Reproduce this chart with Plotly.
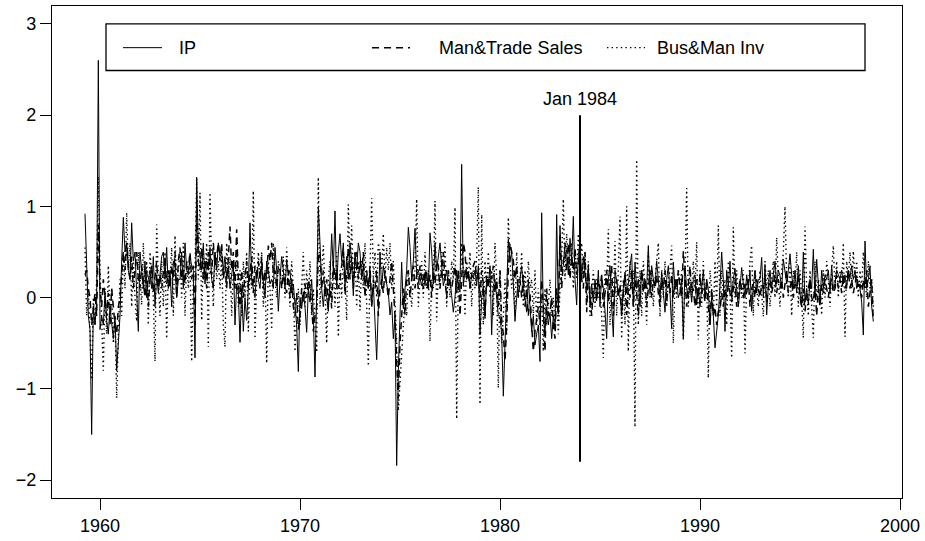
import plotly.graph_objects as go

# Monthly series, April 1959 .. September 1998 (one row per calendar year)
START_YEAR = 1959
START_MONTH = 4

ip = [
    0.92, 0.2, -0.2, -0.35, -1.5, -0.1, -0.3, -0.05, 2.6,
    -0.35, -0.2, -0.3, 0.05, -0.25, -0.4, -0.1, -0.3, -0.45, -0.2, -0.8, -0.5,
    -0.2, 0.4, 0.88, 0.5, 0.6, 0.3, 0.2, 0.82, 0.4, 0.5, 0.1, -0.37,
    0.5, 0.3, 0.1, 0.4, 0.0, 0.2, 0.3, 0.1, 0.45, -0.1, 0.25, 0.05,
    0.3, 0.45, 0.5, 0.2, 0.55, 0.1, 0.3, -0.1, 0.4, 0.35, 0.0, 0.2,
    0.2, 0.5, 0.1, 0.6, 0.3, 0.25, 0.45, 0.35, 0.3, -0.66, 1.32, 0.55,
    0.45, 0.3, 0.6, 0.15, 0.4, 0.3, 0.55, 0.2, 0.1, 0.5, 0.3, 0.6,
    0.45, 0.5, 0.3, 0.45, 0.2, 0.35, 0.1, 0.25, 0.4, -0.3, 0.15, 0.05,
    -0.49, 0.1, -0.37, 0.0, -0.25, 0.1, 0.82, 0.2, 0.1, 0.0, 0.3, 0.2,
    0.1, 0.35, 0.2, 0.0, 0.4, 0.3, 0.15, 0.2, 0.1, 0.55, 0.3, -0.15,
    0.2, 0.45, 0.3, 0.1, 0.42, 0.25, 0.3, 0.05, 0.15, -0.1, -0.3, -0.81,
    0.0, -0.12, 0.06, -0.1, -0.38, 0.1, -0.05, 0.2, -0.2, -0.87, 0.1, 0.99,
    0.6, 0.1, -0.1, 0.15, 0.0, -0.15, 0.2, 0.7, 0.3, 0.95, 0.1, 0.5,
    0.7, 0.4, 0.6, 0.15, 0.45, 0.2, 0.6, 0.4, 0.02, 0.5, 0.3, 0.6,
    0.5, 0.2, 0.35, 0.13, 0.25, 0.1, 0.3, -0.08, 0.15, -0.37, -0.68, -0.1,
    0.5, 0.1, 0.35, 0.21, 0.15, 0.05, -0.19, -0.05, -0.45, -0.2, -1.84, -0.8,
    -0.3, 0.39, -0.12, 0.06, 0.3, 0.77, 0.55, 0.2, 0.4, 0.76, 0.25, 0.3,
    0.2, 0.13, 0.25, 0.13, 0.28, 0.1, 0.71, 0.5, 0.15, 0.6, 0.3, 0.45,
    0.6, 0.35, 0.13, 0.21, 0.3, 0.13, 0.2, 0.02, -0.16, 0.0, 0.3, 0.1,
    0.06, 1.46, 0.13, 0.3, 0.2, 0.28, 0.1, 0.25, 0.21, 0.3, 0.13, 0.35,
    -0.41, 0.0, 0.13, -0.23, 0.2, 0.13, 0.35, -0.41, 0.13, 0.2, 0.0, -0.2,
    -0.2, -0.4, -1.08, -0.5, -0.15, 0.64, 0.4, 0.5, 0.15, -0.26, 0.0, 0.2,
    0.2, 0.35, 0.1, 0.0, -0.16, 0.2, -0.1, -0.37, -0.2, -0.52, -0.4, -0.3,
    -0.7, 0.93, -0.2, -0.37, -0.1, -0.3, -0.16, -0.45, -0.2, -0.35, 0.91, -0.15,
    0.79, 0.3, 0.35, 0.6, 0.5, 0.25, 0.65, 0.4, 0.89, 0.2, -0.08, 0.47,
    0.6, 0.2, 0.45, 0.3, 0.1, 0.35, -0.1, 0.15, -0.05, 0.2, 0.0, 0.3,
    -0.1, 0.24, 0.1, -0.15, -0.45, 0.2, 0.35, -0.1, -0.43, 0.3, 0.15, 0.05,
    0.0, -0.16, 0.1, 0.28, 0.05, 0.15, 0.35, 0.48, -0.1, 0.39, 0.1, 0.2,
    -0.1, 0.3, 0.15, 0.2, 0.1, 0.57, 0.05, 0.35, 0.2, 0.13, 0.4, 0.15,
    0.0, 0.28, 0.1, -0.16, 0.2, 0.35, 0.05, -0.34, 0.39, 0.1, 0.2, 0.0,
    0.06, 0.2, -0.45, 0.35, 0.1, 0.0, 0.13, -0.05, 0.2, 0.25, -0.08, 0.1,
    -0.1, 0.13, 0.3, 0.0, 0.2, 0.1, -0.3, 0.0, -0.2, -0.55, -0.35, -0.19,
    0.13, 0.5, 0.2, -0.37, 0.3, 0.13, 0.4, 0.0, 0.2, 0.32, 0.1, -0.1,
    0.1, 0.33, 0.15, 0.0, 0.25, 0.1, 0.3, -0.15, 0.13, 0.3, 0.05, 0.2,
    0.2, 0.44, 0.0, 0.35, -0.19, 0.13, 0.3, 0.1, 0.25, 0.4, 0.15, 0.3,
    0.24, 0.1, 0.42, 0.3, 0.15, 0.3, 0.48, 0.25, 0.1, 0.3, 0.05, 0.35,
    0.05, -0.1, 0.5, -0.05, 0.1, -0.08, 0.2, 0.1, 0.53, 0.0, 0.42, 0.15,
    -0.05, 0.3, 0.1, 0.25, 0.2, 0.3, 0.05, 0.35, 0.1, 0.15, 0.3, 0.25,
    0.2, 0.3, 0.15, 0.25, 0.1, 0.3, 0.22, 0.35, 0.2, 0.3, 0.1, 0.15,
    0.1, -0.05, -0.41, 0.62, 0.1, 0.2, 0.35, -0.1, -0.26,
]

sales = [
    0.25, 0.3, 0.1, 0.0, -0.3, -0.1, 0.05, -0.2, 0.8,
    0.1, -0.1, 0.2, 0.0, -0.2, 0.05, -0.3, 0.1, -0.15, -0.3, -0.4, -0.1,
    0.0, 0.3, 0.5, 0.3, 0.6, 0.35, 0.2, 0.45, 0.1, 0.3, 0.5, 0.2,
    0.1, 0.35, 0.2, 0.0, 0.3, -0.1, 0.2, 0.35, 0.05, 0.2, 0.4, 0.1,
    0.25, 0.1, 0.3, 0.45, 0.15, 0.3, 0.1, 0.35, 0.2, 0.5, 0.0, 0.4,
    0.55, 0.2, 0.3, 0.15, 0.4, 0.3, 0.5, 0.2, 0.35, -0.3, 0.9, 0.4,
    0.3, 0.55, 0.2, 0.4, 0.1, 0.5, 0.3, 0.25, 0.6, 0.35, 0.45, 0.6,
    0.4, 0.6, 0.2, 0.35, 0.1, 0.45, 0.78, 0.3, 0.5, 0.1, 0.75, 0.2,
    -0.1, 0.3, 0.0, 0.25, 0.4, 0.1, 0.3, 0.45, 0.05, 0.35, 0.2, 0.4,
    0.2, 0.45, 0.1, 0.3, 0.2, 0.57, 0.4, 0.6, 0.25, 0.3, 0.1, 0.35,
    0.3, 0.1, 0.25, 0.15, 0.05, 0.3, 0.0, 0.2, -0.1, -0.2, 0.05, -0.35,
    -0.2, 0.1, -0.05, 0.15, 0.0, 0.2, 0.1, -0.1, -0.37, -0.2, -0.1, 0.45,
    0.5, 0.1, 0.3, 0.0, 0.2, -0.1, 0.15, -0.12, 0.4, 0.2, 0.3, 0.1,
    0.2, 0.35, 0.5, 0.03, 0.3, 0.55, 0.2, 0.45, 0.1, 0.4, 0.5, 0.2,
    0.4, 0.25, 0.5, 0.0, 0.3, 0.1, 0.35, -0.1, 0.2, 0.1, 0.3, -0.2,
    0.1, 0.2, 0.05, 0.3, 0.15, 0.0, 0.2, 0.4, 0.1, -0.2, -0.7, -1.1,
    -0.5, -0.2, 0.1, -0.19, 0.2, 0.3, 0.0, 0.2, 0.35, 0.1, 0.25, 0.1,
    0.35, 0.2, 0.1, 0.3, 0.15, 0.1, 0.25, 0.0, 0.3, 0.15, 0.4, 0.35,
    0.1, 0.3, 0.5, 0.2, 0.0, 0.3, 0.15, 0.1, 0.25, 0.35, 0.05, 0.3,
    -0.2, 0.2, 0.6, 0.5, 0.2, 0.3, 0.1, 0.25, 0.35, 0.4, 0.2, 0.3,
    0.0, 0.3, 0.15, -0.2, 0.25, 0.1, 0.31, 0.2, 0.35, 0.05, 0.2, -0.1,
    0.3, -0.26, -0.4, -0.7, -0.3, 0.3, 0.6, 0.5, 0.4, 0.2, 0.35, 0.0,
    0.2, 0.0, 0.25, -0.1, 0.1, -0.2, 0.05, -0.3, -0.59, -0.37, -0.2, -0.1,
    -0.3, 0.2, -0.1, -0.59, 0.1, -0.2, -0.16, 0.0, -0.3, -0.45, 0.1, -0.2,
    0.68, 0.1, 0.4, 0.5, 0.3, 0.6, 0.2, 0.45, 0.3, 0.55, 0.25, 0.4,
    0.5, 0.2, 0.1, 0.5, -0.16, 0.3, 0.0, -0.2, 0.1, 0.15, -0.05, 0.2,
    0.1, 0.25, -0.1, 0.05, 0.3, -0.05, 0.15, 0.35, -0.2, 0.1, 0.2, 0.0,
    0.15, -0.2, 0.05, 0.25, -0.19, 0.1, 0.0, 0.3, -0.1, 0.2, 0.05, -0.2,
    0.1, 0.3, 0.05, 0.2, -0.1, 0.15, 0.3, 0.0, 0.2, 0.1, 0.25, 0.05,
    -0.1, 0.2, 0.1, 0.3, -0.05, 0.15, 0.05, 0.25, 0.0, 0.2, 0.1, 0.3,
    0.1, 0.0, 0.51, 0.2, -0.1, 0.15, 0.35, 0.05, 0.1, -0.1, 0.2, 0.0,
    0.25, 0.05, 0.1, -0.05, 0.15, -0.1, -0.3, 0.1, -0.2, -0.1, -0.3, -0.15,
    -0.14, 0.05, -0.1, 0.1, 0.0, 0.15, 0.05, -0.05, 0.1, 0.2, -0.1, 0.05,
    0.2, 0.1, 0.0, 0.15, 0.05, 0.2, -0.1, 0.1, 0.15, 0.0, 0.2, 0.1,
    0.0, 0.15, 0.1, 0.2, -0.05, 0.1, 0.2, 0.05, 0.15, 0.25, 0.05, 0.2,
    0.1, 0.2, 0.0, 0.15, 0.3, 0.05, 0.1, 0.2, 0.0, 0.15, 0.1, 0.25,
    0.0, -0.1, 0.1, -0.15, 0.05, 0.1, 0.2, 0.0, -0.05, 0.15, -0.2, 0.1,
    -0.1, 0.15, 0.05, 0.2, 0.1, 0.0, 0.15, 0.2, 0.05, 0.1, 0.25, 0.1,
    0.2, 0.05, 0.25, 0.1, 0.15, 0.3, 0.1, 0.2, 0.05, 0.15, 0.25, 0.1,
    0.15, 0.0, 0.2, 0.1, 0.3, -0.1, 0.05, 0.2, -0.26,
]

inventories = [
    0.55, -0.2, 0.1, -0.5, -0.9, 0.0, -0.3, 0.2, 1.33,
    0.3, -0.3, -0.8, 0.1, -0.4, 0.35, -0.2, 0.1, -0.5, -0.2, -1.1, -0.4,
    0.2, -0.2, 0.5, 0.1, 0.93, 0.3, 0.6, -0.1, 0.4, 0.0, -0.26, 0.5,
    0.2, -0.08, 0.6, 0.1, 0.4, -0.3, 0.5, 0.2, 0.0, -0.7, 0.8, 0.2,
    -0.2, 0.4, -0.1, 0.5, -0.45, 0.3, 0.2, 0.55, -0.2, 0.68, 0.1, 0.3,
    0.5, 0.0, 0.6, -0.2, 0.4, 0.1, 0.45, -0.7, 0.2, 0.3, 1.3, 0.2,
    1.15, -0.25, 0.5, 0.2, 0.6, -0.54, 1.15, 0.3, -0.1, 0.5, 0.2, 0.4,
    0.1, 0.45, -0.3, -0.54, 0.6, 0.2, 0.45, -0.2, 0.3, 0.1, 0.5, -0.1,
    0.3, -0.2, 0.4, 0.0, 0.5, -0.37, 0.3, 0.1, 1.17, -0.45, 0.2, 0.5,
    0.2, 0.5, -0.1, 0.3, -0.72, 0.4, 0.1, -0.35, 0.6, 0.2, 0.0, 0.4,
    0.3, 0.1, 0.45, 0.0, 0.55, 0.2, -0.1, 0.4, 0.1, -0.59, -0.2, 0.1,
    -0.3, 0.2, 0.5, -0.1, 0.3, 0.0, 0.4, -0.2, 0.1, -0.3, -0.6, 1.32,
    -0.1, 0.3, 0.57, 0.1, -0.5, 0.2, 0.4, 0.0, 0.3, -0.1, 0.5, -0.43,
    0.3, 0.0, 0.5, 0.2, -0.25, 1.02, 0.3, 0.79, 0.2, 0.5, -0.1, 0.4,
    -0.14, 0.4, 0.1, 0.6, -0.2, -0.75, 0.3, 1.09, 0.2, 0.5, 0.0, 0.6,
    0.5, 0.3, 0.7, 0.2, 0.55, 0.3, 0.6, 0.1, 0.4, 0.0, -0.5, -1.24,
    -0.9, -0.6, -0.3, 0.0, -0.2, 0.3, 0.1, -0.1, 0.2, 0.3, 1.08, -0.1,
    0.2, 0.4, 0.0, 0.5, 0.1, 0.3, -0.48, 0.2, 0.1, 1.06, -0.26, 0.3,
    0.1, 0.5, 0.2, 0.6, -0.1, 0.3, 0.0, 0.4, 0.2, 0.99, -1.33, 0.3,
    0.1, 0.6, 0.3, -0.2, 0.4, 0.2, 0.5, -0.1, 0.3, 0.1, 0.45, 1.21,
    -1.17, 0.91, -0.3, 0.4, 0.1, 0.5, 0.0, 0.3, -0.2, 0.6, 0.2, -0.99,
    0.3, -0.5, -0.2, 0.2, -0.4, 0.88, 0.4, 0.1, 0.3, -0.2, 0.5, 0.0,
    0.2, 0.5, -0.1, 0.3, 0.0, 0.4, 0.1, 0.2, -0.2, 0.3, -0.3, 0.1,
    -0.2, 0.0, -0.59, 0.1, -0.3, -0.1, 0.2, -0.2, 0.0, -0.3, 0.1, -0.4,
    0.1, 0.4, 1.08, 0.2, 0.7, 0.4, 0.3, 0.6, 0.1, 0.5, 0.2, 0.7,
    0.4, 0.6, 0.2, 0.5, 0.0, 0.4, -0.2, 0.1, 0.3, -0.1, 0.2, 0.0,
    0.1, -0.2, -0.66, 0.3, 0.1, 0.75, -0.3, 0.2, 0.0, 0.62, -0.2, 0.3,
    0.89, -0.45, 0.2, -0.3, 1.0, -0.59, 0.4, 0.1, 0.3, -1.42, 1.51, -0.3,
    0.3, -0.2, 0.4, 0.1, -0.3, 0.5, 0.0, 0.3, -0.1, 0.2, 0.4, 0.6,
    -0.21, 0.3, 0.0, 0.4, -0.1, 0.2, 0.3, 0.57, -0.5, 0.2, 0.0, 0.3,
    0.1, 0.3, -0.46, 0.2, 1.2, -0.1, 0.3, 0.0, 0.4, 0.1, 0.61, -0.46,
    0.3, -0.1, 0.4, 0.0, 0.2, -0.88, 0.3, 0.1, -0.2, 0.4, -0.1, 0.79,
    -0.2, 0.3, 0.0, 0.2, -0.3, 0.4, 0.1, -0.66, 0.77, 0.0, 0.3, -0.1,
    0.2, 0.0, 0.3, -0.61, 0.2, 0.1, 0.4, 0.57, -0.2, 0.3, 0.1, -0.1,
    0.3, 0.0, -0.21, 0.4, 0.1, 0.3, -0.1, 0.2, 0.4, 0.0, 0.66, 0.2,
    -0.1, 0.3, 0.5, 1.0, 0.2, 0.0, 0.4, -0.2, 0.3, 0.1, 0.5, -0.1,
    0.3, 0.0, -0.44, 0.78, 0.1, -0.2, 0.3, -0.1, -0.44, 0.4, 0.0, 0.2,
    0.1, -0.19, 0.3, 0.0, 0.4, 0.2, -0.1, 0.3, 0.57, 0.1, 0.4, 0.0,
    0.3, 0.1, 0.6, -0.43, 0.4, 0.2, 0.5, 0.1, 0.51, 0.2, 0.4, 0.0,
    0.3, 0.1, 0.5, 0.2, 0.0, 0.4, 0.1, 0.2, -0.1,
]

series_names = ["IP", "Man&Trade Sales", "Bus&Man Inv"]
x_ticks = [1960, 1970, 1980, 1990, 2000]
y_ticks = [-2, -1, 0, 1, 2, 3]
event_year = 1984
event_label = "Jan 1984"
event_span = [-1.8, 2.0]


def years(n):
    return [START_YEAR + (START_MONTH - 1 + i) / 12.0 for i in range(n)]


FONT = "Liberation Sans, Arial, Helvetica, sans-serif"
DOT = dict(color="black", width=1.4, dash="1.4px,3.2px")
DASH = dict(color="black", width=1.5, dash="7px,5px")
SOLID = dict(color="black", width=1)

fig = go.Figure()
fig.add_trace(go.Scatter(x=years(len(inventories)), y=inventories, mode="lines",
                         name=series_names[2], line=DOT))
fig.add_trace(go.Scatter(x=years(len(sales)), y=sales, mode="lines",
                         name=series_names[1], line=DASH))
fig.add_trace(go.Scatter(x=years(len(ip)), y=ip, mode="lines",
                         name=series_names[0], line=SOLID))
fig.add_trace(go.Scatter(x=[event_year, event_year], y=event_span, mode="lines",
                         line=dict(color="black", width=2), showlegend=False))

fig.add_annotation(x=event_year, y=event_span[1], yshift=4, text=event_label,
                   showarrow=False, yanchor="bottom", xanchor="center",
                   font=dict(family=FONT, size=18, color="black"))


# legend box (drawn to mimic the boxed legend of the original)
def px_x(p):
    return (p - 52) / 850.0


def px_y(p):
    return (501 - p) / 496.0


fig.add_shape(type="rect", xref="paper", yref="paper",
              x0=px_x(106), x1=px_x(865), y0=px_y(70), y1=px_y(23),
              line=dict(color="black", width=1.3), fillcolor="white", layer="above")
leg_y = px_y(47)
legend_items = [(123, 162, 177, SOLID), (372, 410, 437, DASH), (607, 645, 655, DOT)]
for (a, b, t, ln), name in zip(legend_items, series_names):
    fig.add_shape(type="line", xref="paper", yref="paper", x0=px_x(a), x1=px_x(b),
                  y0=leg_y, y1=leg_y, line=ln, layer="above")
    fig.add_annotation(xref="paper", yref="paper", x=px_x(t), y=leg_y, text=name,
                       showarrow=False, xanchor="left", yanchor="middle",
                       font=dict(family=FONT, size=18, color="black"))

axis_common = dict(showgrid=False, zeroline=False, showline=True, mirror=True,
                   linecolor="black", linewidth=1.2, ticks="outside", ticklen=11,
                   tickcolor="black", tickwidth=1,
                   tickfont=dict(family=FONT, size=18, color="black"))

fig.update_layout(
    width=925, height=541,
    margin=dict(l=52, r=23, t=5, b=40),
    paper_bgcolor="white", plot_bgcolor="white",
    showlegend=False,
    xaxis=dict(range=[1957.6, 2000.1], tickvals=x_ticks,
               ticktext=[str(v) for v in x_ticks], **axis_common),
    yaxis=dict(range=[-2.196, 3.196], tickvals=y_ticks,
               ticktext=[str(v).replace("-", "\u2212") for v in y_ticks], **axis_common),
)

fig.write_html(
    "out.html",
    config={"displayModeBar": False},
    post_script="document.body.style.margin='0';document.body.style.padding='0';",
)
